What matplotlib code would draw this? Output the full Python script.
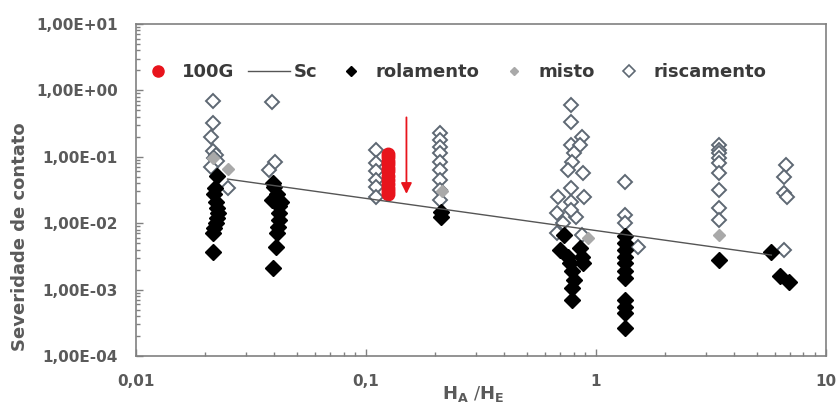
import matplotlib
matplotlib.use("Agg")
import matplotlib.pyplot as plt
from matplotlib.lines import Line2D
from matplotlib.ticker import FuncFormatter, LogLocator

plt.rcParams["mathtext.fontset"] = "dejavusans"

# 100G test points (vertical stack at H_A/H_E ~ 0.125)
g100_x = [0.125] * 12
g100_y = [0.110, 0.098, 0.087, 0.077, 0.068, 0.060, 0.052, 0.045, 0.039, 0.034, 0.030, 0.027]

# Sc trend line end points
sc_x = [0.025, 5.8]
sc_y = [0.046, 0.0033]

# rolamento (rolling)
rol_x = [0.0225, 0.0220, 0.0218, 0.0222, 0.0225, 0.0228, 0.0226, 0.0222, 0.0218, 0.0215, 0.0215,
         0.0395, 0.0400, 0.0410, 0.0390, 0.0425, 0.0420, 0.0418, 0.0420, 0.0415, 0.0410, 0.0405, 0.0395,
         0.212, 0.213,
         0.73, 0.70, 0.76, 0.85, 0.87, 0.88, 0.77, 0.79, 0.80, 0.79, 0.79,
         1.34, 1.34, 1.34, 1.34, 1.34, 1.34, 1.34, 1.34, 1.34, 1.34, 1.34,
         3.43, 5.8, 6.3, 6.9]
rol_y = [0.051, 0.034, 0.027, 0.021, 0.0168, 0.0141, 0.0119, 0.0100, 0.0084, 0.0072, 0.0037,
         0.040, 0.035, 0.027, 0.022, 0.021, 0.018, 0.0141, 0.0112, 0.0088, 0.0071, 0.0043, 0.0021,
         0.0149, 0.0122,
         0.0066, 0.0040, 0.0031, 0.0042, 0.0031, 0.0025, 0.0025, 0.0019, 0.0014, 0.00105, 0.0007,
         0.0063, 0.0050, 0.0040, 0.0031, 0.0025, 0.0019, 0.0015, 0.0007, 0.00055, 0.00044, 0.00026,
         0.0028, 0.0037, 0.0016, 0.0013]

# misto (mixed)
mis_x = [0.025, 0.0215, 0.215, 0.92, 3.43]
mis_y = [0.065, 0.095, 0.030, 0.0060, 0.0066]

# riscamento (scratching)
ris_x = [0.0215, 0.0215, 0.0212, 0.0215, 0.0222, 0.0218, 0.0225, 0.0212, 0.025,
         0.039, 0.0402, 0.038,
         0.111, 0.111, 0.111, 0.111, 0.111, 0.111,
         0.21, 0.21, 0.21, 0.21, 0.21, 0.21, 0.21, 0.21, 0.21,
         0.78, 0.78, 0.87, 0.78, 0.85, 0.80, 0.79, 0.76, 0.88, 0.78, 0.685, 0.89, 0.78,
         0.68, 0.82, 0.72, 0.68, 0.87, 0.78,
         1.34, 1.34, 1.34, 1.53,
         3.43, 3.43, 3.43, 3.43, 3.43, 3.43, 3.43, 3.43, 3.43,
         6.75, 6.6, 6.6, 6.8, 6.6]
ris_y = [0.70, 0.32, 0.20, 0.12, 0.105, 0.095, 0.085, 0.070, 0.034,
         0.66, 0.084, 0.062,
         0.126, 0.080, 0.060, 0.045, 0.0355, 0.025,
         0.226, 0.179, 0.142, 0.113, 0.0845, 0.063, 0.0448, 0.0316, 0.0223,
         0.60, 0.338, 0.201, 0.151, 0.151, 0.113, 0.0845, 0.063, 0.056, 0.0336, 0.0251, 0.0251, 0.0211,
         0.0141, 0.0125, 0.0100, 0.0071, 0.0066, 0.016,
         0.042, 0.0133, 0.0100, 0.0044,
         0.151, 0.126, 0.113, 0.095, 0.0805, 0.056, 0.0316, 0.0168, 0.0112,
         0.075, 0.050, 0.028, 0.0245, 0.0039]

# red arrow
arrow_x = 0.150
arrow_top = 0.43
arrow_tip = 0.025

GRAY = "#5a5a5a"
FONT = "DejaVu Sans"

fig = plt.figure(figsize=(8.4, 4.11), dpi=100)
ax = fig.add_axes([0.162, 0.134, 0.821, 0.808])

ax.plot(ris_x, ris_y, ls="none", marker="D", ms=7.5, mfc="white", mec="#5e6873", mew=1.4, zorder=3)
ax.plot(mis_x, mis_y, ls="none", marker="D", ms=6.5, mfc="#a9a9a9", mec="#a9a9a9", zorder=4)
ax.plot(rol_x, rol_y, ls="none", marker="D", ms=8, mfc="black", mec="black", zorder=5)
ax.plot(g100_x, g100_y, ls="none", marker="o", ms=9, mfc="#e8141c", mec="#e8141c", zorder=6)
ax.plot(sc_x, sc_y, color="#555555", lw=1.0, zorder=7)
ax.annotate("", xy=(arrow_x, arrow_tip), xytext=(arrow_x, arrow_top),
            arrowprops=dict(arrowstyle="-|>", color="#e8141c", lw=1.3, mutation_scale=16))

ax.set_xscale("log")
ax.set_yscale("log")
ax.set_xlim(0.01, 10)
ax.set_ylim(1e-4, 10)

ax.xaxis.set_major_formatter(FuncFormatter(lambda v, p: f"{v:g}".replace(".", ",")))
ax.yaxis.set_major_formatter(FuncFormatter(lambda v, p: f"{v:.2E}".replace(".", ",")))
ax.xaxis.set_minor_locator(LogLocator(base=10, subs=range(2, 10)))
ax.yaxis.set_minor_locator(LogLocator(base=10, subs=range(2, 10)))

ax.tick_params(which="both", direction="in", color="#808080", labelcolor=GRAY, pad=13)
ax.tick_params(which="major", length=5, width=1)
ax.tick_params(which="minor", length=3, width=1)
for lab in ax.get_xticklabels() + ax.get_yticklabels():
    lab.set_fontweight("bold")
    lab.set_fontsize(11)
    lab.set_fontfamily(FONT)

for sp in ax.spines.values():
    sp.set_color("#808080")
    sp.set_linewidth(1.2)

ax.set_ylabel("Severidade de contato", fontsize=13, fontweight="bold", color=GRAY, family=FONT)
ax.yaxis.set_label_coords(-0.155, 0.36)
ax.set_xlabel(r"$\mathbf{H_A}$ /$\mathbf{H_E}$", fontsize=13, color=GRAY, va="center")
ax.xaxis.set_label_coords(0.488, -0.115)

handles = [
    Line2D([], [], ls="none", marker="o", ms=8, mfc="#e8141c", mec="#e8141c"),
    Line2D([], [], color="#555555", lw=1.0),
    Line2D([], [], ls="none", marker="D", ms=5.5, mfc="black", mec="black"),
    Line2D([], [], ls="none", marker="D", ms=4.5, mfc="#a9a9a9", mec="#a9a9a9"),
    Line2D([], [], ls="none", marker="D", ms=6, mfc="white", mec="#5e6873", mew=1.2),
]
labels = ["100G", "Sc", "rolamento", "misto", "riscamento"]
leg = ax.legend(handles, labels, loc="center left", bbox_to_anchor=(-0.009, 0.855), ncol=5,
                frameon=False, handlelength=2.3, handletextpad=0.2, columnspacing=0.75,
                borderaxespad=0.0, prop=dict(family=FONT, weight="bold", size=13))
for t in leg.get_texts():
    t.set_color("#3a3a3a")

fig.savefig("out.png", dpi=100)
